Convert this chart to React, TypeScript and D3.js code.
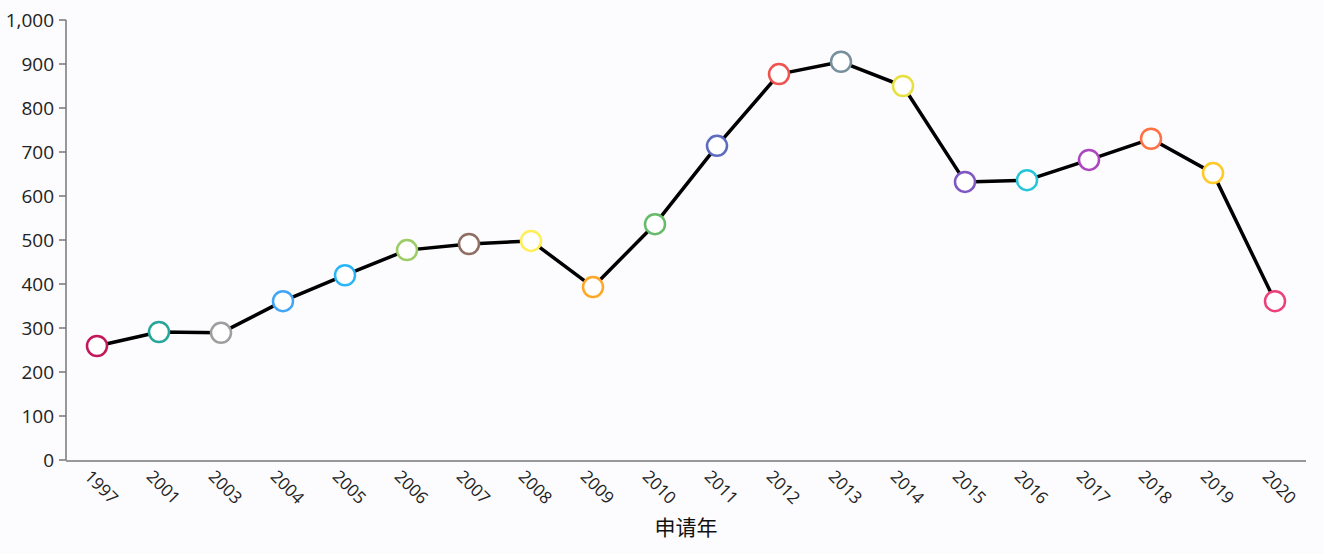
import React from "react";
import * as d3 from "d3";

const years = ["1997","2001","2003","2004","2005","2006","2007","2008","2009","2010","2011","2012","2013","2014","2015","2016","2017","2018","2019","2020"];
const counts = [259,291,289,361,420,477,491,498,393,536,714,877,905,850,632,636,682,730,652,361];
const markerColors = ["#c2185b","#26a69a","#9e9e9e","#42a5f5","#29b6f6","#9ccc65","#8d6e63","#ffee58","#ffa726","#66bb6a","#5c6bc0","#ef5350","#78909c","#e6e040","#7e57c2","#26c6da","#ab47bc","#ff7043","#ffca28","#ec407a"];
const yTicks = [0,100,200,300,400,500,600,700,800,900,1000];
const xTitle = "申请年";

const W = 1324, H = 554;
const left = 66, right = 1306, top = 20, bottom = 460;

export default function App() {
  const x = d3.scalePoint<string>().domain(years).range([left, right]).padding(0.5);
  const y = d3.scaleLinear().domain([0, 1000]).range([bottom, top]);
  const line = d3.line<number>().x((_, i) => x(years[i])!).y(d => y(d));
  const fmt = d3.format(",");
  const font = "'Open Sans', 'Noto Sans', sans-serif";
  return (
    <div style={{ position: "fixed", left: 0, top: 0 }}>
      <svg width={W} height={H} style={{ display: "block", background: "#fcfbfd" }} fontFamily={font}>
        <line x1={left} x2={left} y1={top} y2={bottom} stroke="#777" strokeWidth={1.5} />
        <line x1={left} x2={right} y1={bottom + 1} y2={bottom + 1} stroke="#777" strokeWidth={1.5} />
        {yTicks.map(t => (
          <g key={t} transform={`translate(${left},${y(t)})`}>
            <line x1={-7} x2={0} stroke="#777" strokeWidth={1.5} />
            <text x={-12} dy="0.35em" textAnchor="end" fontSize={19} fill="#222">{fmt(t)}</text>
          </g>
        ))}
        {years.map(yr => (
          <text key={yr} transform={`translate(${x(yr)! - 5},${bottom + 9}) rotate(45)`} dy="0.71em" textAnchor="start" fontSize={17} fill="#222">{yr}</text>
        ))}
        <text x={(left + right) / 2} y={535} textAnchor="middle" fontSize={21} fill="#111" fontFamily="'Noto Sans CJK SC', sans-serif">{xTitle}</text>
        <path d={line(counts)!} fill="none" stroke="#000" strokeWidth={3.5} strokeLinejoin="round" />
        {counts.map((c, i) => (
          <circle key={years[i]} cx={x(years[i])!} cy={y(c)} r={10} fill="#fff" stroke={markerColors[i]} strokeWidth={2.5} />
        ))}
      </svg>
    </div>
  );
}
